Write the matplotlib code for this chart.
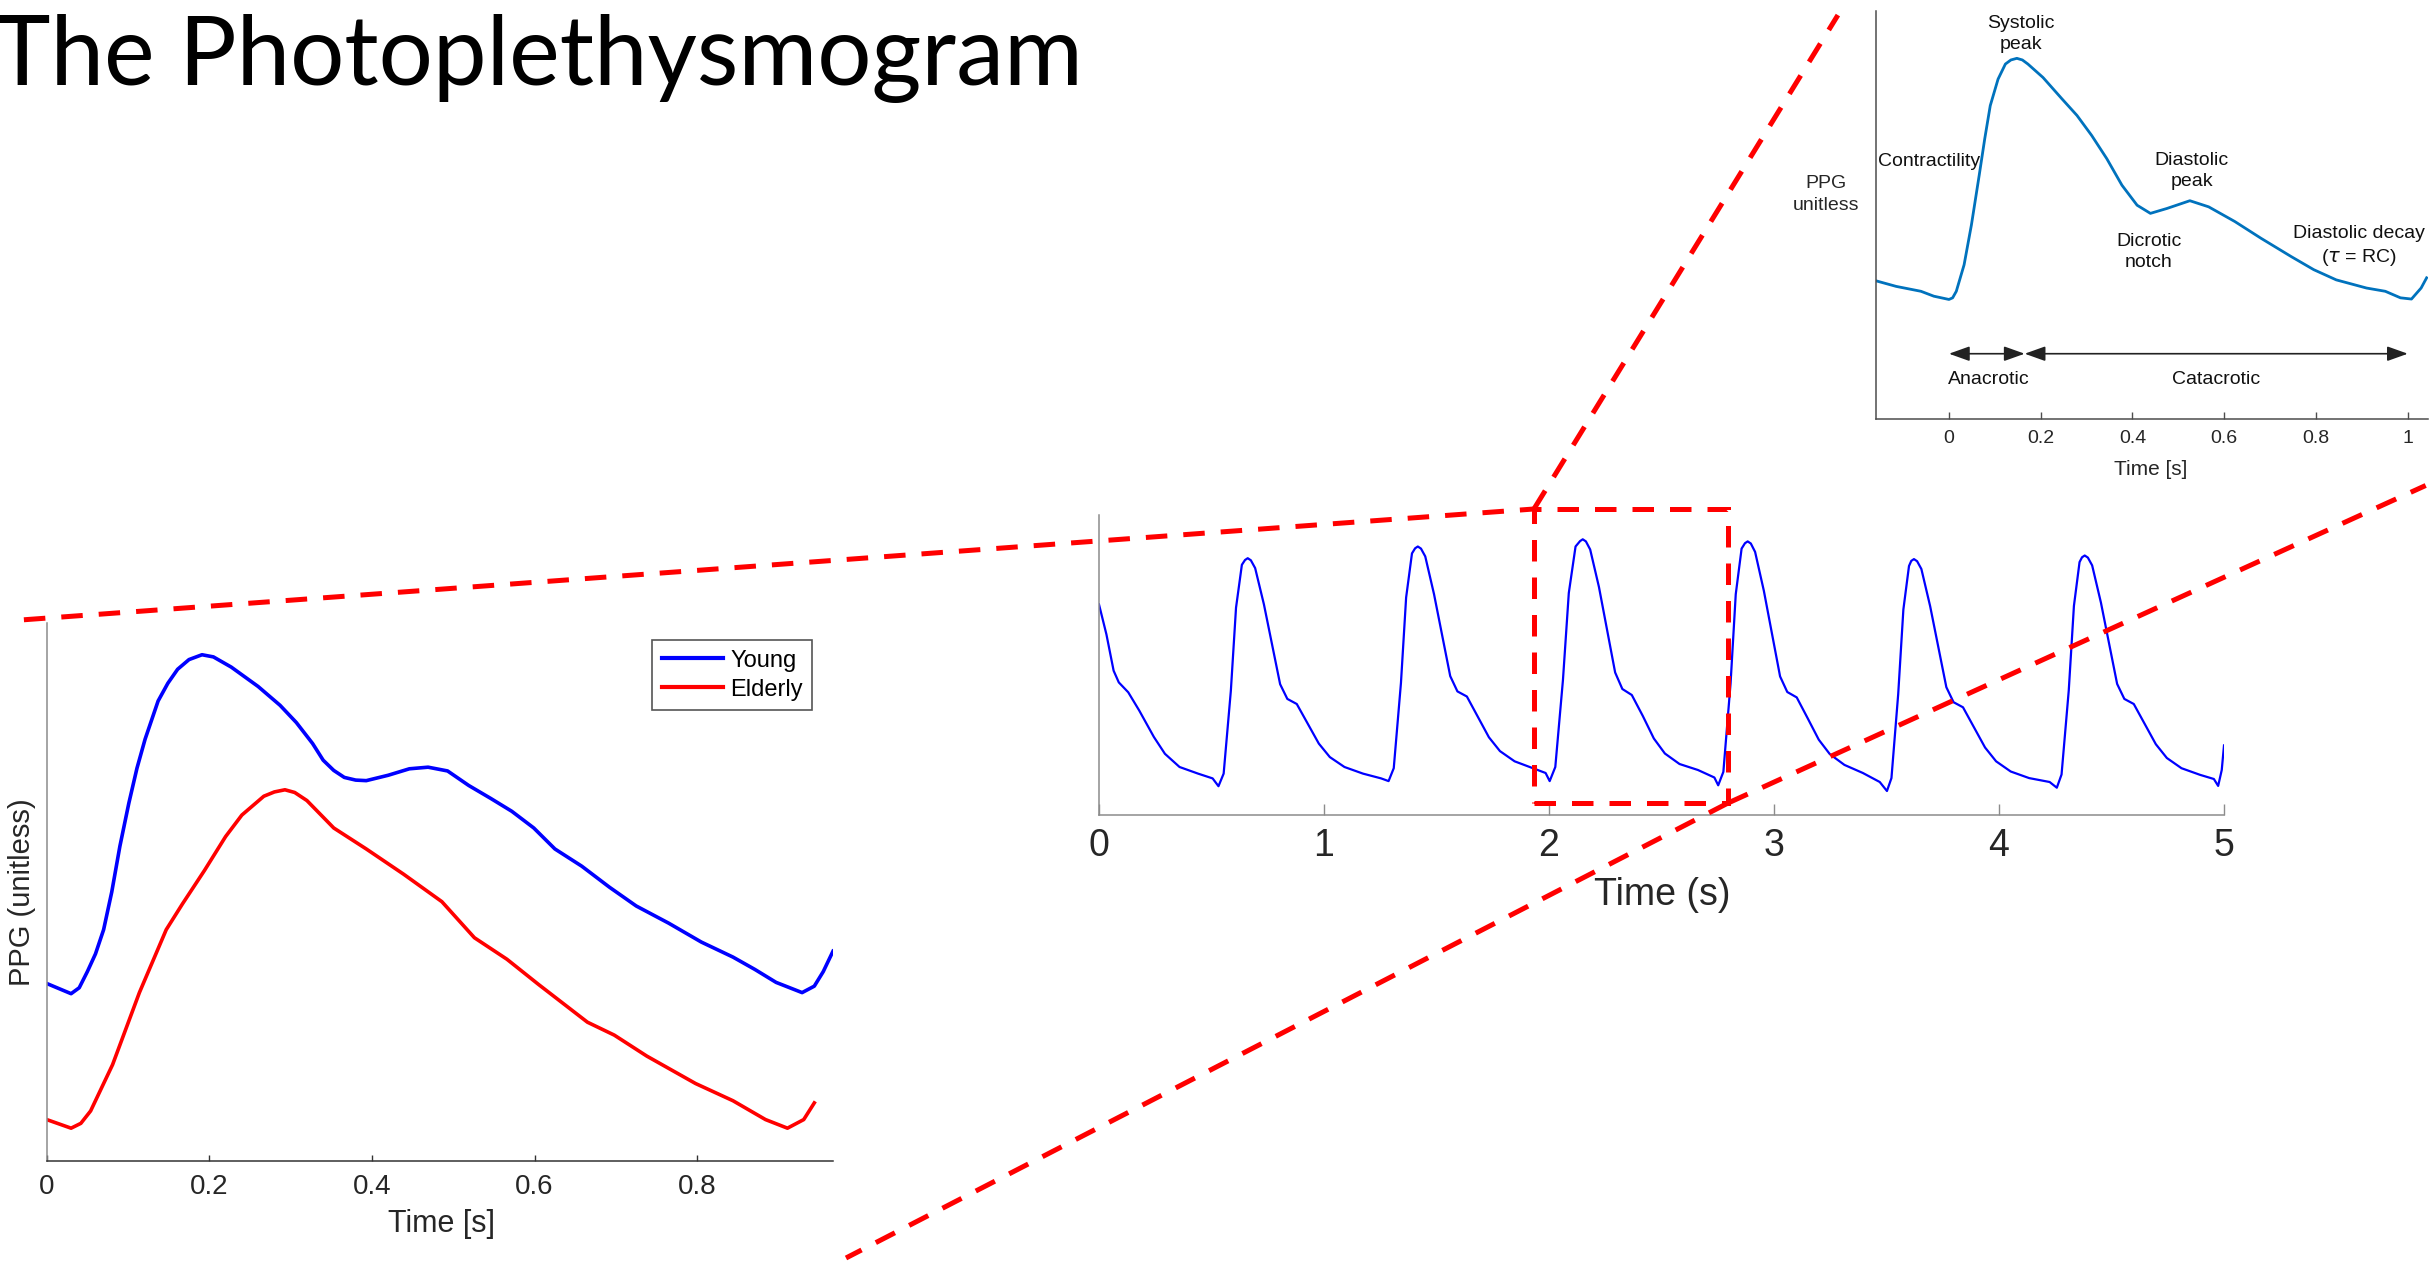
import matplotlib
matplotlib.use("Agg")
import matplotlib.pyplot as plt
from matplotlib.patches import ConnectionPatch, Rectangle

plt.rcParams['font.family'] = ['Liberation Sans', 'DejaVu Sans']

# ---------------- data ----------------
title_text = "The Photoplethysmogram"

# left panel: single beat, young vs elderly (time in s, PPG normalised to axis)
young_t = [0, 0.030, 0.040, 0.050, 0.060, 0.070, 0.080, 0.090, 0.101, 0.111, 0.121, 0.137,
           0.149, 0.161, 0.175, 0.191, 0.205, 0.227, 0.260, 0.287, 0.307, 0.327, 0.340,
           0.353, 0.366, 0.380, 0.393, 0.420, 0.446, 0.469, 0.493, 0.519, 0.546, 0.572,
           0.599, 0.625, 0.658, 0.692, 0.725, 0.765, 0.805, 0.844, 0.871, 0.897, 0.929,
           0.944, 0.955, 0.967]
young_v = [0.330, 0.311, 0.322, 0.352, 0.385, 0.430, 0.500, 0.585, 0.665, 0.730, 0.784, 0.855,
           0.888, 0.914, 0.932, 0.941, 0.937, 0.918, 0.882, 0.847, 0.815, 0.776, 0.745,
           0.726, 0.713, 0.708, 0.707, 0.717, 0.729, 0.732, 0.725, 0.698, 0.674, 0.650,
           0.619, 0.580, 0.548, 0.509, 0.474, 0.442, 0.407, 0.379, 0.356, 0.332, 0.313,
           0.325, 0.352, 0.390]
elderly_t = [0, 0.030, 0.042, 0.054, 0.081, 0.114, 0.147, 0.167, 0.194, 0.220, 0.240, 0.267,
             0.280, 0.293, 0.305, 0.320, 0.353, 0.393, 0.439, 0.486, 0.526, 0.566, 0.605,
             0.665, 0.698, 0.738, 0.798, 0.844, 0.884, 0.911, 0.931, 0.944]
elderly_v = [0.077, 0.061, 0.070, 0.093, 0.179, 0.313, 0.430, 0.478, 0.540, 0.603, 0.643, 0.678,
             0.686, 0.690, 0.685, 0.670, 0.619, 0.580, 0.533, 0.482, 0.415, 0.375, 0.328,
             0.258, 0.234, 0.195, 0.144, 0.112, 0.077, 0.061, 0.077, 0.108]
left_ticks = [0, 0.2, 0.4, 0.6, 0.8]
left_ticklabels = ["0", "0.2", "0.4", "0.6", "0.8"]
legend_labels = ["Young", "Elderly"]

# middle panel: 5 s recording
mid_t = [0, 0.033, 0.065, 0.088, 0.130, 0.179, 0.244, 0.293, 0.358, 0.440, 0.505, 0.531,
         0.554, 0.586, 0.609, 0.635, 0.649, 0.661, 0.675, 0.694, 0.733, 0.772, 0.805, 0.837,
         0.879, 0.928, 0.977, 1.026, 1.091, 1.173, 1.254, 1.287,
         1.310, 1.342, 1.365, 1.391, 1.405, 1.417, 1.431, 1.450, 1.489, 1.528, 1.561, 1.593,
         1.635, 1.684, 1.733, 1.782, 1.847, 1.929, 1.985, 2.003,
         2.028, 2.062, 2.088, 2.118, 2.138, 2.150, 2.164, 2.183, 2.222, 2.261, 2.294, 2.326,
         2.368, 2.417, 2.466, 2.515, 2.580, 2.662, 2.735, 2.752,
         2.775, 2.807, 2.830, 2.856, 2.871, 2.883, 2.897, 2.916, 2.955, 2.994, 3.027, 3.059,
         3.101, 3.150, 3.199, 3.248, 3.313, 3.395, 3.470, 3.502,
         3.522, 3.552, 3.575, 3.600, 3.610, 3.622, 3.636, 3.655, 3.694, 3.733, 3.766, 3.798,
         3.840, 3.889, 3.938, 3.987, 4.052, 4.134, 4.225, 4.257,
         4.278, 4.310, 4.333, 4.358, 4.369, 4.381, 4.395, 4.414, 4.453, 4.492, 4.525, 4.557,
         4.599, 4.648, 4.697, 4.746, 4.811, 4.893, 4.955, 4.974, 4.990, 5.0]
mid_v = [0.702, 0.602, 0.481, 0.442, 0.409, 0.348, 0.260, 0.204, 0.160, 0.138, 0.122, 0.096,
         0.138, 0.414, 0.691, 0.834, 0.850, 0.856, 0.849, 0.823, 0.702, 0.558, 0.436, 0.387,
         0.370, 0.304, 0.238, 0.193, 0.160, 0.138, 0.122, 0.113,
         0.156, 0.440, 0.725, 0.872, 0.889, 0.895, 0.888, 0.862, 0.736, 0.588, 0.463, 0.412,
         0.395, 0.327, 0.259, 0.213, 0.179, 0.156, 0.140, 0.113,
         0.160, 0.450, 0.740, 0.895, 0.913, 0.919, 0.912, 0.885, 0.760, 0.605, 0.475, 0.420,
         0.400, 0.330, 0.255, 0.205, 0.170, 0.150, 0.125, 0.099,
         0.144, 0.439, 0.736, 0.888, 0.906, 0.912, 0.905, 0.877, 0.747, 0.593, 0.462, 0.410,
         0.392, 0.322, 0.251, 0.203, 0.167, 0.140, 0.110, 0.080,
         0.123, 0.403, 0.685, 0.830, 0.847, 0.853, 0.846, 0.820, 0.696, 0.550, 0.426, 0.376,
         0.359, 0.292, 0.225, 0.179, 0.145, 0.123, 0.110, 0.091,
         0.135, 0.415, 0.697, 0.843, 0.859, 0.865, 0.858, 0.832, 0.708, 0.562, 0.437, 0.387,
         0.370, 0.303, 0.236, 0.190, 0.156, 0.134, 0.120, 0.097, 0.150, 0.232]
mid_ticks = [0, 1, 2, 3, 4, 5]
zoom_box_t = (1.933, 2.796)
zoom_box_v = (0.04, 1.02)

# inset: annotated single beat
inset_t = [-0.160, -0.115, -0.061, -0.033, 0, 0.008, 0.016, 0.033, 0.049, 0.066, 0.078, 0.090,
           0.107, 0.123, 0.135, 0.148, 0.160, 0.172, 0.205, 0.246, 0.279, 0.311, 0.344, 0.377,
           0.410, 0.439, 0.475, 0.525, 0.566, 0.623, 0.680, 0.746, 0.795, 0.844, 0.910, 0.951,
           0.984, 1.008, 1.029, 1.041]
inset_v = [0.339, 0.325, 0.313, 0.301, 0.293, 0.297, 0.313, 0.378, 0.476, 0.598, 0.687, 0.768,
           0.833, 0.870, 0.880, 0.884, 0.880, 0.870, 0.837, 0.785, 0.744, 0.695, 0.638, 0.573,
           0.524, 0.504, 0.516, 0.535, 0.520, 0.484, 0.443, 0.398, 0.366, 0.341, 0.321, 0.313,
           0.297, 0.294, 0.321, 0.346]
inset_ticks = [0, 0.2, 0.4, 0.6, 0.8, 1]
inset_ticklabels = ["0", "0.2", "0.4", "0.6", "0.8", "1"]
inset_notes = [("Systolic\npeak", 0.156, 0.943),
               ("Contractility", -0.043, 0.632),
               ("Diastolic\npeak", 0.529, 0.607),
               ("Dicrotic\nnotch", 0.436, 0.409),
               ("Diastolic decay\n($\\tau$ = RC)", 0.893, 0.423),
               ("Anacrotic", 0.086, 0.098),
               ("Catacrotic", 0.582, 0.098)]
phase_arrows = [(0.0, 0.165), (0.165, 1.0)]
phase_arrow_v = 0.160

# ---------------- figure ----------------
W, H = 2433, 1261
fig = plt.figure(figsize=(W / 100, H / 100), dpi=100)

def frac_rect(x0, y_top, x1, y_bot):
    return [x0 / W, 1 - y_bot / H, (x1 - x0) / W, (y_bot - y_top) / H]

ax_l = fig.add_axes(frac_rect(46.7, 623, 833, 1161))
ax_m = fig.add_axes(frac_rect(1099, 515, 2224, 815))
ax_i = fig.add_axes(frac_rect(1876, 11, 2428, 419))

def style(ax, spine_left, spine_bottom, lw=1.1):
    for s in ("top", "right"):
        ax.spines[s].set_visible(False)
    ax.spines["left"].set_color(spine_left)
    ax.spines["bottom"].set_color(spine_bottom)
    ax.spines["left"].set_linewidth(lw)
    ax.spines["bottom"].set_linewidth(lw)
    ax.set_yticks([])
    ax.set_ylim(0, 1)

# left panel
style(ax_l, "#8c8c8c", "#333333")
ax_l.plot(young_t, young_v, color=(0, 0, 1), lw=2.6, label=legend_labels[0],
          solid_joinstyle="round")
ax_l.plot(elderly_t, elderly_v, color=(1, 0, 0), lw=2.6, label=legend_labels[1],
          solid_joinstyle="round")
ax_l.set_xlim(0, 0.967)
ax_l.set_xticks(left_ticks)
ax_l.set_xticklabels(left_ticklabels)
ax_l.tick_params(axis="x", direction="in", length=4, width=1, color="#333333",
                 labelsize=20, labelcolor="#262626", pad=9)
ax_l.set_xlabel("Time [s]", fontsize=22, color="#262626")
ax_l.xaxis.label.set_va("center")
ax_l.xaxis.set_label_coords(0.502, -0.117)
ax_l.set_ylabel("PPG (unitless)", fontsize=21, color="#262626")
ax_l.yaxis.label.set_va("center")
ax_l.yaxis.set_label_coords(-0.031, 0.50)
leg = ax_l.legend(loc="upper left", bbox_to_anchor=(0.770, 0.968), fontsize=17,
                  fancybox=False, framealpha=1, edgecolor="#555555", borderpad=0.4,
                  handlelength=2.6, handletextpad=0.3, labelspacing=0.3, borderaxespad=0)
leg.get_frame().set_linewidth(1.2)
for ln in leg.get_lines():
    ln.set_linewidth(3.0)

# middle panel
style(ax_m, "#8c8c8c", "#8c8c8c")
ax_m.plot(mid_t, mid_v, color=(0, 0, 1), lw=1.6, zorder=2, solid_joinstyle="round")
ax_m.set_xlim(0, 5)
ax_m.set_xticks(mid_ticks)
ax_m.tick_params(axis="x", direction="in", length=8, width=1, color="#8c8c8c",
                 labelsize=27, labelcolor="#262626", pad=9)
ax_m.set_xlabel("Time (s)", fontsize=27, color="#262626")
ax_m.xaxis.label.set_va("center")
ax_m.xaxis.set_label_coords(0.501, -0.267)

# inset
style(ax_i, "#4d4d4d", "#4d4d4d")
ax_i.plot(inset_t, inset_v, color="#0072BD", lw=2.0, solid_joinstyle="round")
ax_i.set_xlim(-0.159, 1.044)
ax_i.set_xticks(inset_ticks)
ax_i.set_xticklabels(inset_ticklabels)
ax_i.tick_params(axis="x", direction="in", length=5, width=1, color="#4d4d4d",
                 labelsize=14, labelcolor="#262626", pad=8)
ax_i.set_xlabel("Time [s]", fontsize=15, color="#262626")
ax_i.xaxis.label.set_va("center")
ax_i.xaxis.set_label_coords(0.498, -0.125)
ax_i.text(-0.09, 0.550, "PPG\nunitless", transform=ax_i.transAxes, ha="center",
          va="center", fontsize=14, color="#262626", linespacing=1.35, clip_on=False)
for txt, tx, ty in inset_notes:
    ax_i.text(tx, ty, txt, ha="center", va="center", fontsize=14, color="#111111",
              linespacing=1.3)
for a0, a1 in phase_arrows:
    ax_i.annotate("", xy=(a1, phase_arrow_v), xytext=(a0, phase_arrow_v),
                  arrowprops=dict(arrowstyle="<|-|>,head_length=0.7,head_width=0.25",
                                  color="#222222", lw=1.2, shrinkA=0, shrinkB=0,
                                  mutation_scale=18))

# title
fig.text(1083 / W, 1 - 85 / H, title_text, ha="right", va="baseline", fontsize=69,
         family=["Lato", "DejaVu Sans"], color="black")

# zoom box and connector lines
dash = (0, (4.3, 3.2))
red_lw = 3.6
box = Rectangle((zoom_box_t[0], zoom_box_v[0]), zoom_box_t[1] - zoom_box_t[0],
                zoom_box_v[1] - zoom_box_v[0], fill=False, edgecolor="red", lw=red_lw,
                linestyle=dash, clip_on=False, zorder=5)
ax_m.add_patch(box)

connectors = [
    ((-0.029, 1.006), ax_l.transAxes, (zoom_box_t[0], zoom_box_v[1]), ax_m.transData),
    ((zoom_box_t[0], zoom_box_v[1]), ax_m.transData, (-0.069, 0.990), ax_i.transAxes),
    ((zoom_box_t[1], zoom_box_v[0]), ax_m.transData, (0.997, 0.615), fig.transFigure),
    ((zoom_box_t[1], zoom_box_v[0]), ax_m.transData, (846 / W, 1 - 1258 / H), fig.transFigure),
]
for xyA, cA, xyB, cB in connectors:
    con = ConnectionPatch(xyA=xyA, coordsA=cA, xyB=xyB, coordsB=cB, color="red",
                          lw=red_lw, linestyle=dash, clip_on=False, zorder=6)
    con.set_capstyle("butt")
    fig.add_artist(con)

fig.savefig("out.png", dpi=100)
